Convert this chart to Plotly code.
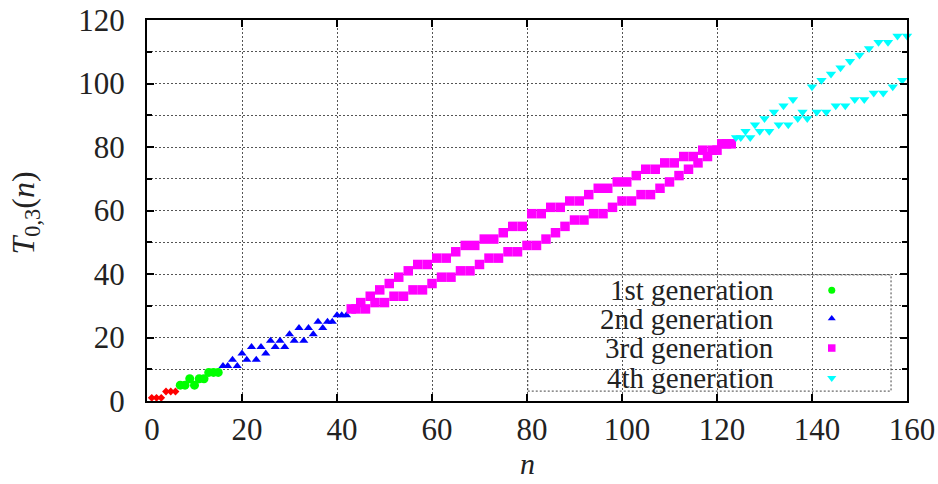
import plotly.graph_objects as go

# ---- data ----
n_gen0 = list(range(1, 7))
t_gen0 = [1, 1, 1, 3, 3, 3]

n_gen1 = list(range(7, 16))
t_gen1 = [5, 5, 7, 5, 7, 7, 9, 9, 9]

n_gen2 = list(range(16, 43))
t_gen2 = [11, 11, 13, 11, 15, 13, 17, 13, 17, 15,
          19, 17, 19, 17, 21, 19, 23, 19, 23, 21,
          25, 23, 25, 25, 27, 27, 27]

n_gen3 = list(range(43, 124))
t_gen3 = [29, 29, 31, 29, 33, 31, 35, 31, 37, 33,
          39, 33, 41, 35, 43, 35, 43, 37, 45, 39,
          45, 39, 47, 41, 49, 41, 49, 43, 51, 45,
          51, 45, 53, 47, 55, 47, 55, 49, 59, 49,
          59, 51, 61, 53, 61, 55, 63, 57, 63, 57,
          65, 59, 67, 59, 67, 61, 69, 63, 69, 63,
          71, 65, 73, 65, 73, 67, 75, 69, 75, 71,
          77, 73, 77, 75, 79, 77, 79, 79, 81, 81, 81]

n_gen4 = list(range(124, 161))
t_gen4 = [83, 83, 85, 83, 87, 85, 89, 85, 91, 87,
          93, 87, 95, 89, 91, 89, 99, 91, 101, 91,
          103, 93, 105, 93, 107, 95, 109, 95, 111, 97,
          113, 97, 113, 99, 115, 101, 115]

legend_labels = ["1st generation", "2nd generation", "3rd generation", "4th generation"]

x_ticks = [0, 20, 40, 60, 80, 100, 120, 140, 160]
y_ticks = [0, 20, 40, 60, 80, 100, 120]

# ---- styles ----
FONT = "Liberation Serif"
TXT = "#222222"
GRID = "#555555"
series = [
    (n_gen0, t_gen0, "#ff0000", "diamond", 6, None, 0),
    (n_gen1, t_gen1, "#00ff00", "circle", 9, 0, 7),
    (n_gen2, t_gen2, "#0000ff", "triangle-up", 8, 1, 7),
    (n_gen3, t_gen3, "#ff00ff", "square", 9.5, 2, 7.5),
    (n_gen4, t_gen4, "#00ffff", "triangle-down", 9, 3, 8),
]

fig = go.Figure()
for xs, ys, col, sym, sz, _, _k in series:
    fig.add_trace(go.Scatter(
        x=xs, y=ys, mode="markers", showlegend=False, cliponaxis=False,
        marker=dict(color=col, symbol=sym, size=sz, line=dict(width=0)),
        hoverinfo="skip"))

# custom gnuplot-style key (text right-aligned, sample at right)
key_text_x = 0.826
key_mark_x = 0.901
key_rows = [0.291, 0.2165, 0.139, 0.0604]
annotations = []
for (xs, ys, col, sym, sz, li, ksz) in series:
    if li is None:
        continue
    fig.add_trace(go.Scatter(
        x=[key_mark_x], y=[key_rows[li]], xaxis="x2", yaxis="y2",
        mode="markers", showlegend=False, cliponaxis=False, hoverinfo="skip",
        marker=dict(color=col, symbol=sym, size=ksz, line=dict(width=0))))
    annotations.append(dict(
        x=key_text_x, y=key_rows[li], xref="paper", yref="paper",
        text=legend_labels[li], showarrow=False, xanchor="right", yanchor="middle",
        borderpad=0, font=dict(family=FONT, size=29, color=TXT)))

# axis titles
annotations.append(dict(
    x=0.5, y=0, xref="paper", yref="paper", yshift=-62,
    text="<i>n</i>", showarrow=False, xanchor="center", yanchor="middle",
    borderpad=0, font=dict(family=FONT, size=30, color=TXT)))
annotations.append(dict(
    x=0, y=0.5, xref="paper", yref="paper", xshift=-122, yshift=-3,
    text="<i>T</i><sub>0,3</sub>(<i>n</i>)", showarrow=False, textangle=-90,
    xanchor="center", yanchor="middle",
    font=dict(family=FONT, size=32, color=TXT)))

axis_common = dict(
    showline=True, linecolor="black", linewidth=2, mirror="ticks",
    ticks="inside", ticklen=7, tickwidth=1.5, tickcolor="black",
    showgrid=True, gridcolor=GRID, gridwidth=1, griddash="2px,2px",
    zeroline=False, automargin=False,
    tickfont=dict(family=FONT, size=31, color=TXT),
)

fig.update_layout(
    width=938, height=484,
    margin=dict(l=147, r=31, t=20, b=83, autoexpand=False),
    paper_bgcolor="white", plot_bgcolor="white",
    xaxis=dict(range=[0, 160], tickvals=x_ticks, ticktext=[str(v) for v in x_ticks],
               ticklabelshift=5, ticklabelstandoff=0, **axis_common),
    yaxis=dict(range=[0, 120], tickvals=y_ticks, ticktext=[str(v) for v in y_ticks],
               ticklabelstandoff=14,
               minor=dict(dtick=10, tick0=0, ticks="inside", ticklen=5, tickwidth=1.5,
                          tickcolor="black", showgrid=True, gridcolor=GRID,
                          gridwidth=1, griddash="2px,2px"),
               **axis_common),
    xaxis2=dict(overlaying="x", range=[0, 1], visible=False, fixedrange=True),
    yaxis2=dict(overlaying="y", range=[0, 1], visible=False, fixedrange=True),
    shapes=[dict(type="rect", xref="paper", yref="paper",
                 x0=0.501, x1=0.979, y0=0.026, y1=0.331,
                 fillcolor="white", layer="between",
                 line=dict(color="#444444", width=1, dash="2px,2px"))],
    annotations=annotations,
)

fig.write_html("out.html")
